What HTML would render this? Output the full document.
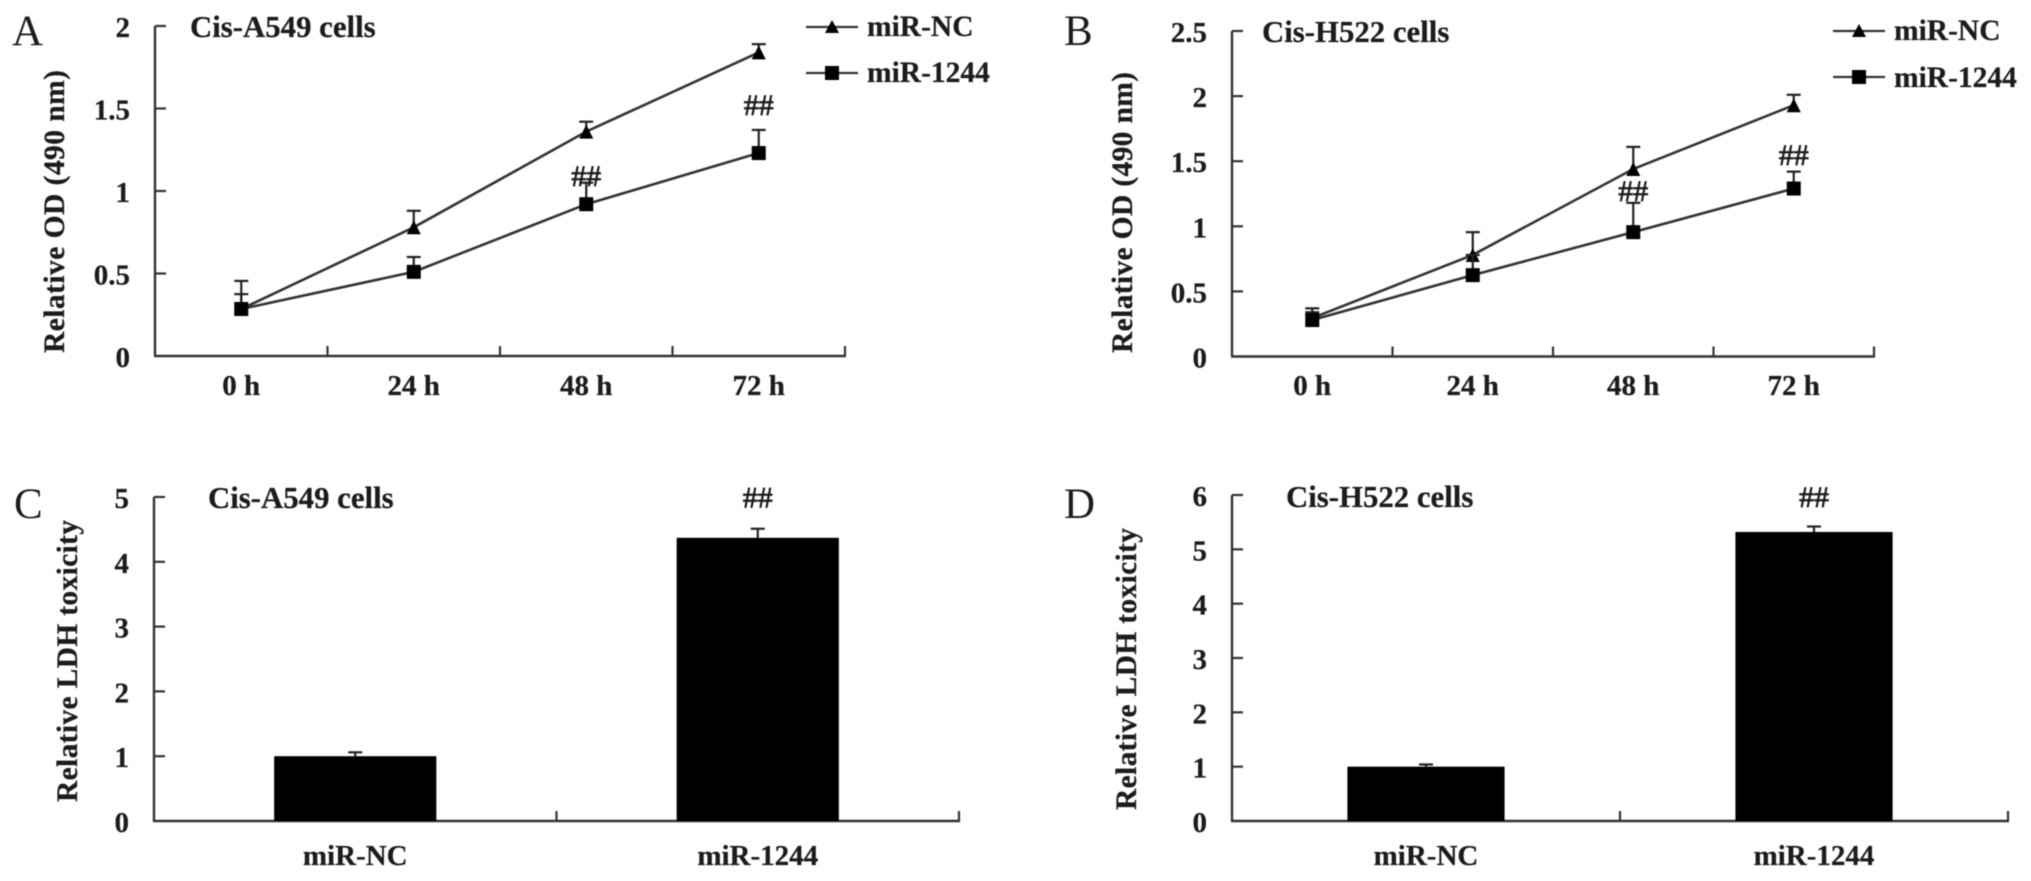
<!DOCTYPE html>
<html lang="en">
<head>
<meta charset="utf-8">
<title>Cisplatin cell viability and LDH toxicity charts</title>
<style>
html,body{margin:0;padding:0;background:#fff;width:2031px;height:881px;overflow:hidden}
svg{display:block;filter:blur(0.55px)}
text{font-family:"Liberation Serif","Times New Roman",serif;font-weight:bold;fill:#1c1c1c;stroke:#1c1c1c;stroke-width:.25px}
.letter{font-weight:normal;font-size:43px;stroke-width:0}
.title{font-size:30.8px}
.tick{font-size:29px;text-anchor:end}
.cat{font-size:29px;text-anchor:middle}
.legend{font-size:29.5px}
.axis-title{font-size:29.5px}
.sig{font-size:30px;text-anchor:middle;font-weight:normal;stroke-width:.7px}
</style>
</head>
<body>
<svg id="figure" xmlns="http://www.w3.org/2000/svg" width="2031" height="881" viewBox="0 0 2031 881">
  <rect width="2031" height="881" fill="#fff"/>

  <text class="letter" x="12" y="45">A</text>
  <text class="letter" x="1064" y="45">B</text>
  <text class="letter" x="14" y="518">C</text>
  <text class="letter" x="1064" y="518">D</text>

  <text class="title" x="190" y="37">Cis-A549 cells</text>
  <text class="title" x="1262" y="42">Cis-H522 cells</text>
  <text class="title" x="208" y="508">Cis-A549 cells</text>
  <text class="title" x="1286" y="507">Cis-H522 cells</text>

  <text class="axis-title" transform="translate(64 353) rotate(-90)" textLength="283" lengthAdjust="spacing">Relative OD (490 nm)</text>
  <text class="axis-title" transform="translate(1132 353) rotate(-90)" textLength="281" lengthAdjust="spacing">Relative OD (490 nm)</text>
  <text class="axis-title" transform="translate(77 802) rotate(-90)" textLength="282" lengthAdjust="spacing">Relative LDH toxicity</text>
  <text class="axis-title" transform="translate(1136 810) rotate(-90)" textLength="282" lengthAdjust="spacing">Relative LDH toxicity</text>

  <g>
    <g>
      <line x1="806" y1="27" x2="858" y2="27" stroke="#333" stroke-width="2.2"/>
      <polygon points="832,20 839,33 825,33" fill="#000"/>
      <text class="legend" x="867" y="36">miR-NC</text>
    </g>
    <g>
      <line x1="806" y1="73" x2="858" y2="73" stroke="#333" stroke-width="2.2"/>
      <rect x="825" y="66" width="14" height="14" fill="#000"/>
      <text class="legend" x="867" y="82">miR-1244</text>
    </g>
  </g>
  <g>
    <g>
      <line x1="1833" y1="31" x2="1885" y2="31" stroke="#333" stroke-width="2.2"/>
      <polygon points="1859,24 1866,37 1852,37" fill="#000"/>
      <text class="legend" x="1894" y="40">miR-NC</text>
    </g>
    <g>
      <line x1="1833" y1="77" x2="1885" y2="77" stroke="#333" stroke-width="2.2"/>
      <rect x="1852" y="70" width="14" height="14" fill="#000"/>
      <text class="legend" x="1894" y="87">miR-1244</text>
    </g>
  </g>
</svg>

<script>
// Shared categories
const timeCategories = ['0 h', '24 h', '48 h', '72 h'];
const groupCategories = ['miR-NC', 'miR-1244'];

// Panel A: Cis-A549 viability
const panelATicks = ['0', '0.5', '1', '1.5', '2'];
const panelANcValues = [0.285, 0.78, 1.36, 1.84];
const panelANcErrors = [0.17, 0.10, 0.06, 0.05];
const panelAMirValues = [0.285, 0.51, 0.92, 1.23];
const panelAMirErrors = [0.09, 0.09, 0.13, 0.14];
const panelASigLevels = [null, null, 1.03, 1.46];

// Panel B: Cis-H522 viability
const panelBTicks = ['0', '0.5', '1', '1.5', '2', '2.5'];
const panelBNcValues = [0.295, 0.78, 1.44, 1.93];
const panelBNcErrors = [0.075, 0.175, 0.17, 0.08];
const panelBMirValues = [0.28, 0.625, 0.955, 1.29];
const panelBMirErrors = [0.06, 0.155, 0.225, 0.13];
const panelBSigLevels = [null, null, 1.194, 1.47];

// Panel C: Cis-A549 LDH toxicity
const panelCTicks = ['0', '1', '2', '3', '4', '5'];
const panelCValues = [1.0, 4.37];
const panelCErrors = [0.06, 0.14];
const panelCSigLevels = [null, 4.84];

// Panel D: Cis-H522 LDH toxicity
const panelDTicks = ['0', '1', '2', '3', '4', '5', '6'];
const panelDValues = [1.0, 5.32];
const panelDErrors = [0.04, 0.10];
const panelDSigLevels = [null, 5.78];

const SVG_NS = 'http://www.w3.org/2000/svg';
const figure = document.getElementById('figure');
const INK = '#333';

function make(parent, tag, attrs, content) {
  const el = document.createElementNS(SVG_NS, tag);
  for (const k in attrs) el.setAttribute(k, attrs[k]);
  if (content !== undefined) el.textContent = content;
  parent.appendChild(el);
  return el;
}

function makeScales(frame, categoryCount, tickCount) {
  const band = (frame.right - frame.left) / categoryCount;
  return {
    band: band,
    x: function (i) { return frame.left + band * (i + 0.5); },
    edge: function (i) { return frame.left + band * i; },
    y: function (v) { return frame.bottom - (v / frame.yMax) * (frame.bottom - frame.top); },
    tickY: function (i) { return frame.bottom - (i / (tickCount - 1)) * (frame.bottom - frame.top); }
  };
}

function drawAxes(prefix, frame, scales, ticks, categories, categoryBaseline) {
  const group = make(figure, 'g', {});
  
  

  const yAxis = make(group, 'line', { x1: frame.left, y1: frame.top, x2: frame.left, y2: frame.bottom, stroke: INK, 'stroke-width': 2.4 });
  
  

  const xAxis = make(group, 'line', { x1: frame.left - 1, y1: frame.bottom, x2: frame.right + 1, y2: frame.bottom, stroke: INK, 'stroke-width': 2.4 });
  
  

  ticks.forEach(function (label, i) {
    const y = scales.tickY(i);
    if (i > 0) {
      const mark = make(group, 'line', { x1: frame.left, y1: y, x2: frame.left + 11, y2: y, stroke: INK, 'stroke-width': 2.2 });
      
      
    }
    const text = make(group, 'text', { class: 'tick', x: frame.left - 25, y: y + 11 }, label);
    
    
  });

  categories.forEach(function (label, i) {
    const mark = make(group, 'line', { x1: scales.edge(i + 1), y1: frame.bottom, x2: scales.edge(i + 1), y2: frame.bottom - 10, stroke: INK, 'stroke-width': 2.2 });
    
    
    const text = make(group, 'text', { class: 'cat', x: scales.x(i), y: categoryBaseline }, label);
    
    
  });
}

function drawErrorBar(group, name, x, yFrom, yTo, stroke) {
  const stem = make(group, 'line', { x1: x, y1: yFrom, x2: x, y2: yTo, stroke: stroke, 'stroke-width': 2.2 });
  
  
  const cap = make(group, 'line', { x1: x - 7, y1: yTo, x2: x + 7, y2: yTo, stroke: stroke, 'stroke-width': 2.2 });
  
  
}

function drawSeries(prefix, seriesName, marker, scales, values, errors) {
  const group = make(figure, 'g', {});
  
  

  values.forEach(function (v, i) {
    drawErrorBar(group, seriesName, scales.x(i), scales.y(v), scales.y(v + errors[i]), '#222');
  });

  const points = values.map(function (v, i) { return scales.x(i) + ',' + scales.y(v); }).join(' ');
  const line = make(group, 'polyline', { points: points, fill: 'none', stroke: INK, 'stroke-width': 2.6 });
  
  

  values.forEach(function (v, i) {
    const cx = scales.x(i);
    const cy = scales.y(v);
    let shape;
    if (marker === 'triangle') {
      shape = make(group, 'polygon', { points: cx + ',' + (cy - 7) + ' ' + (cx + 7) + ',' + (cy + 7) + ' ' + (cx - 7) + ',' + (cy + 7), fill: '#000' });
    } else {
      shape = make(group, 'rect', { x: cx - 7, y: cy - 7, width: 14, height: 14, fill: '#000' });
    }
    
    
  });
}

function drawBars(prefix, scales, values, errors, widthRatio) {
  const group = make(figure, 'g', {});
  
  

  values.forEach(function (v, i) {
    drawErrorBar(group, prefix + '-bar', scales.x(i), scales.y(v), scales.y(v + errors[i]), '#222');
    const w = scales.band * widthRatio;
    const bar = make(group, 'rect', { x: scales.x(i) - w / 2, y: scales.y(v), width: w, height: scales.y(0) - scales.y(v), fill: '#000' });
    
    
  });
}

function drawSignificance(prefix, scales, levels) {
  levels.forEach(function (level, i) {
    if (level === null) return;
    const mark = make(figure, 'text', { class: 'sig', x: scales.x(i), y: scales.y(level) }, '##');
    
    
  });
}

// Panel A
const frameA = { left: 155, right: 845, top: 26, bottom: 356, yMax: 2 };
const scalesA = makeScales(frameA, timeCategories.length, panelATicks.length);
drawAxes('panel-a', frameA, scalesA, panelATicks, timeCategories, 395);
drawSeries('panel-a', 'mir-nc', 'triangle', scalesA, panelANcValues, panelANcErrors);
drawSeries('panel-a', 'mir-1244', 'square', scalesA, panelAMirValues, panelAMirErrors);
drawSignificance('panel-a', scalesA, panelASigLevels);

// Panel B
const frameB = { left: 1232, right: 1874, top: 31, bottom: 356.5, yMax: 2.5 };
const scalesB = makeScales(frameB, timeCategories.length, panelBTicks.length);
drawAxes('panel-b', frameB, scalesB, panelBTicks, timeCategories, 395);
drawSeries('panel-b', 'mir-nc', 'triangle', scalesB, panelBNcValues, panelBNcErrors);
drawSeries('panel-b', 'mir-1244', 'square', scalesB, panelBMirValues, panelBMirErrors);
drawSignificance('panel-b', scalesB, panelBSigLevels);

// Panel C
const frameC = { left: 154, right: 959, top: 497, bottom: 821, yMax: 5 };
const scalesC = makeScales(frameC, groupCategories.length, panelCTicks.length);
drawAxes('panel-c', frameC, scalesC, panelCTicks, groupCategories, 865);
drawBars('panel-c', scalesC, panelCValues, panelCErrors, 0.403);
drawSignificance('panel-c', scalesC, panelCSigLevels);

// Panel D
const frameD = { left: 1232, right: 2008, top: 495, bottom: 821, yMax: 6 };
const scalesD = makeScales(frameD, groupCategories.length, panelDTicks.length);
drawAxes('panel-d', frameD, scalesD, panelDTicks, groupCategories, 865);
drawBars('panel-d', scalesD, panelDValues, panelDErrors, 0.405);
drawSignificance('panel-d', scalesD, panelDSigLevels);
</script>
</body>
</html>
